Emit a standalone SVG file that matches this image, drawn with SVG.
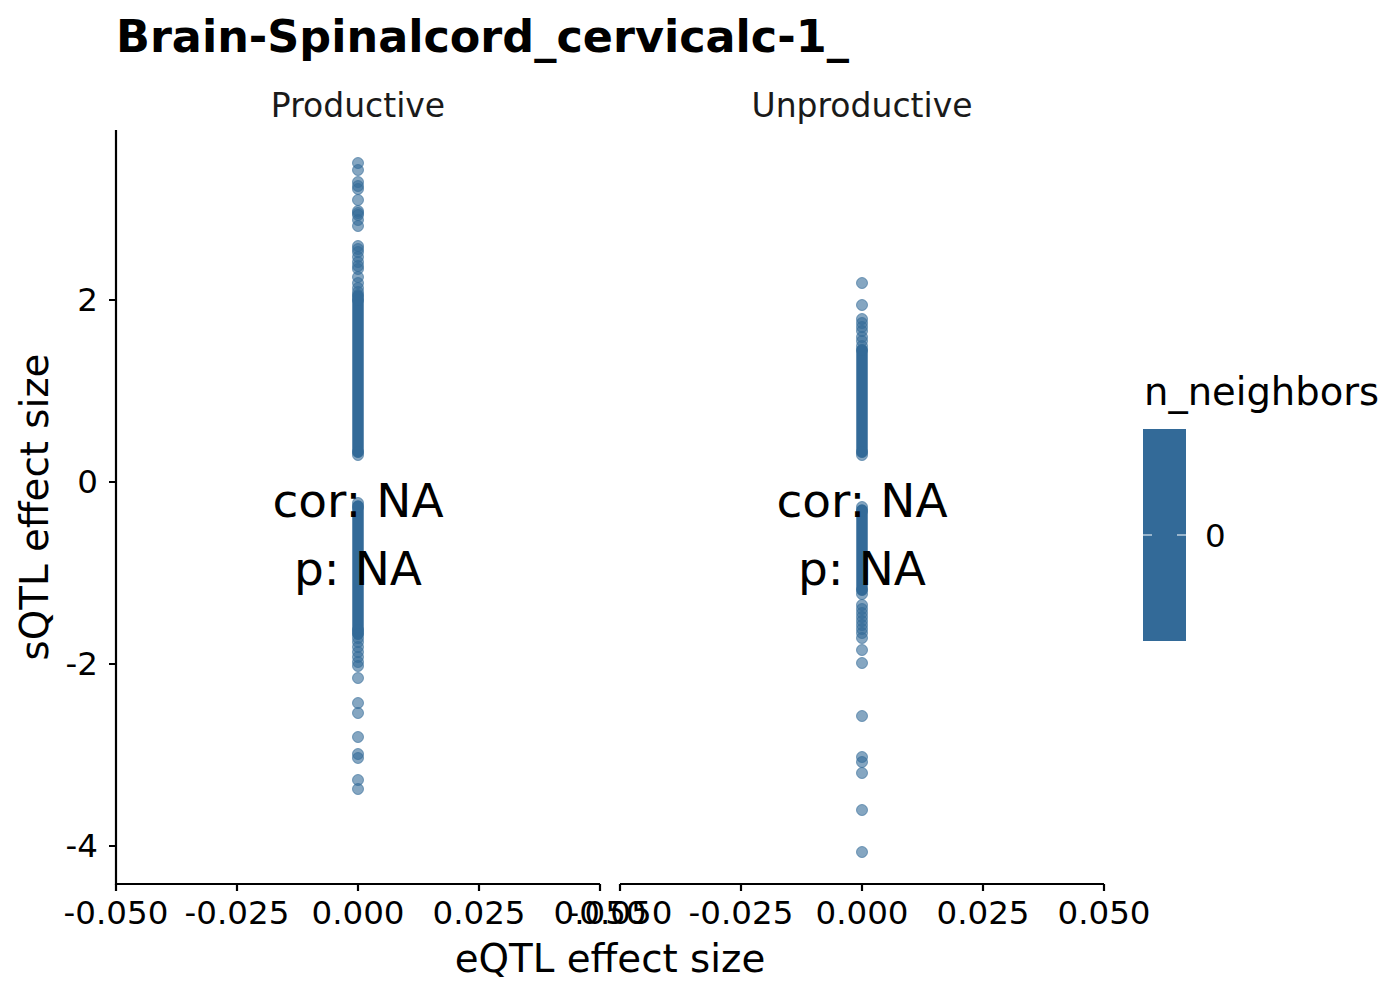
<svg xmlns="http://www.w3.org/2000/svg" width="1400" height="1000" viewBox="0 0 1400 1000">
<style>
text{font-family:"DejaVu Sans","Liberation Sans",sans-serif;fill:#000}
.title{font-size:44.5px;font-weight:bold}
.strip{font-size:33px;text-anchor:middle;fill:#1a1a1a}
.tick{font-size:32.5px;fill:#000}
.axt{font-size:38.8px;text-anchor:middle}
.ann{font-size:47px;text-anchor:middle}
.ax{stroke:#000;stroke-width:2.2;fill:none}
.pt{fill:#336A98;fill-opacity:0.6;stroke:#336A98;stroke-opacity:0.6;stroke-width:1}
.dense{stroke:#336A98;stroke-width:11.5;stroke-linecap:round}
</style>
<rect width="1400" height="1000" fill="#fff"/>
<text class="title" x="116" y="52">Brain-Spinalcord_cervicalc-1_</text>

<g id="panel-productive">
<text class="strip" x="358" y="117">Productive</text>
<line class="dense" x1="358" y1="296" x2="358" y2="452"/>
<line class="dense" x1="358" y1="506" x2="358" y2="634"/>
<g>
<circle class="pt" cx="358" cy="163" r="5.5"/><circle class="pt" cx="358" cy="170" r="5.5"/>
<circle class="pt" cx="358" cy="182" r="5.5"/><circle class="pt" cx="358" cy="186" r="5.5"/>
<circle class="pt" cx="358" cy="189" r="5.5"/><circle class="pt" cx="358" cy="200" r="5.5"/>
<circle class="pt" cx="358" cy="211" r="5.5"/><circle class="pt" cx="358" cy="213" r="5.5"/>
<circle class="pt" cx="358" cy="215" r="5.5"/><circle class="pt" cx="358" cy="220" r="5.5"/>
<circle class="pt" cx="358" cy="226" r="5.5"/><circle class="pt" cx="358" cy="246" r="5.5"/>
<circle class="pt" cx="358" cy="249" r="5.5"/><circle class="pt" cx="358" cy="252" r="5.5"/>
<circle class="pt" cx="358" cy="257" r="5.5"/><circle class="pt" cx="358" cy="262" r="5.5"/>
<circle class="pt" cx="358" cy="266" r="5.5"/><circle class="pt" cx="358" cy="269" r="5.5"/>
<circle class="pt" cx="358" cy="277" r="5.5"/><circle class="pt" cx="358" cy="283" r="5.5"/>
<circle class="pt" cx="358" cy="288" r="5.5"/><circle class="pt" cx="358" cy="292" r="5.5"/>
<circle class="pt" cx="358" cy="295" r="5.5"/><circle class="pt" cx="358" cy="300" r="5.5"/>
<circle class="pt" cx="358" cy="455" r="5.5"/><circle class="pt" cx="358" cy="452" r="5.5"/>
<circle class="pt" cx="358" cy="503" r="5.5"/><circle class="pt" cx="358" cy="507" r="5.5"/>
<circle class="pt" cx="358" cy="630" r="5.5"/><circle class="pt" cx="358" cy="634" r="5.5"/>
<circle class="pt" cx="358" cy="638" r="5.5"/><circle class="pt" cx="358" cy="642" r="5.5"/>
<circle class="pt" cx="358" cy="647" r="5.5"/><circle class="pt" cx="358" cy="652" r="5.5"/>
<circle class="pt" cx="358" cy="657" r="5.5"/><circle class="pt" cx="358" cy="662" r="5.5"/>
<circle class="pt" cx="358" cy="666" r="5.5"/><circle class="pt" cx="358" cy="678" r="5.5"/>
<circle class="pt" cx="358" cy="703" r="5.5"/><circle class="pt" cx="358" cy="713" r="5.5"/>
<circle class="pt" cx="358" cy="737" r="5.5"/><circle class="pt" cx="358" cy="754" r="5.5"/>
<circle class="pt" cx="358" cy="758" r="5.5"/><circle class="pt" cx="358" cy="780" r="5.5"/>
<circle class="pt" cx="358" cy="789" r="5.5"/>
</g>
<text class="ann" x="358" y="517">cor: NA</text>
<text class="ann" x="358" y="585">p: NA</text>
</g>

<g id="panel-unproductive">
<text class="strip" x="862" y="117">Unproductive</text>
<line class="dense" x1="862" y1="350" x2="862" y2="452"/>
<line class="dense" x1="862" y1="510" x2="862" y2="590"/>
<g>
<circle class="pt" cx="862" cy="283" r="5.5"/><circle class="pt" cx="862" cy="305" r="5.5"/>
<circle class="pt" cx="862" cy="319" r="5.5"/><circle class="pt" cx="862" cy="323" r="5.5"/>
<circle class="pt" cx="862" cy="327" r="5.5"/><circle class="pt" cx="862" cy="331" r="5.5"/>
<circle class="pt" cx="862" cy="337" r="5.5"/><circle class="pt" cx="862" cy="341" r="5.5"/>
<circle class="pt" cx="862" cy="346" r="5.5"/><circle class="pt" cx="862" cy="350" r="5.5"/>
<circle class="pt" cx="862" cy="455" r="5.5"/><circle class="pt" cx="862" cy="452" r="5.5"/>
<circle class="pt" cx="862" cy="507" r="5.5"/><circle class="pt" cx="862" cy="511" r="5.5"/>
<circle class="pt" cx="862" cy="590" r="5.5"/><circle class="pt" cx="862" cy="594" r="5.5"/>
<circle class="pt" cx="862" cy="605" r="5.5"/><circle class="pt" cx="862" cy="609" r="5.5"/>
<circle class="pt" cx="862" cy="613" r="5.5"/><circle class="pt" cx="862" cy="617" r="5.5"/>
<circle class="pt" cx="862" cy="621" r="5.5"/><circle class="pt" cx="862" cy="625" r="5.5"/>
<circle class="pt" cx="862" cy="629" r="5.5"/><circle class="pt" cx="862" cy="633" r="5.5"/>
<circle class="pt" cx="862" cy="638" r="5.5"/><circle class="pt" cx="862" cy="650" r="5.5"/>
<circle class="pt" cx="862" cy="663" r="5.5"/><circle class="pt" cx="862" cy="716" r="5.5"/>
<circle class="pt" cx="862" cy="757" r="5.5"/><circle class="pt" cx="862" cy="762" r="5.5"/>
<circle class="pt" cx="862" cy="773" r="5.5"/><circle class="pt" cx="862" cy="810" r="5.5"/>
<circle class="pt" cx="862" cy="852" r="5.5"/>
</g>
<text class="ann" x="862" y="517">cor: NA</text>
<text class="ann" x="862" y="585">p: NA</text>
</g>

<g id="axes">
<path class="ax" d="M116 130V884H600M620 884H1104"/>
<path class="ax" d="M109 300H116M109 482H116M109 664H116M109 846H116"/>
<path class="ax" d="M116 884V891M237 884V891M358 884V891M479 884V891M600 884V891M620 884V891M741 884V891M862 884V891M983 884V891M1104 884V891"/>
<g class="tick" text-anchor="end">
<text x="98" y="311">2</text>
<text x="98" y="493">0</text>
<text x="98" y="675">-2</text>
<text x="98" y="857">-4</text>
</g>
<g class="tick" text-anchor="middle">
<text x="116" y="924">-0.050</text>
<text x="237" y="924">-0.025</text>
<text x="358" y="924">0.000</text>
<text x="479" y="924">0.025</text>
<text x="600" y="924">0.050</text>
<text x="620" y="924">-0.050</text>
<text x="741" y="924">-0.025</text>
<text x="862" y="924">0.000</text>
<text x="983" y="924">0.025</text>
<text x="1104" y="924">0.050</text>
</g>
<text class="axt" x="610" y="972">eQTL effect size</text>
<text class="axt" transform="translate(48 507) rotate(-90)">sQTL effect size</text>
</g>

<g id="legend">
<text x="1144" y="405" style="font-size:38.5px">n_neighbors</text>
<rect x="1143" y="429" width="43" height="212" fill="#336A98"/>
<path d="M1143 535H1152M1177 535H1186" stroke="#fff" stroke-width="1.2"/>
<text class="tick" x="1205" y="547">0</text>
</g>
</svg>
